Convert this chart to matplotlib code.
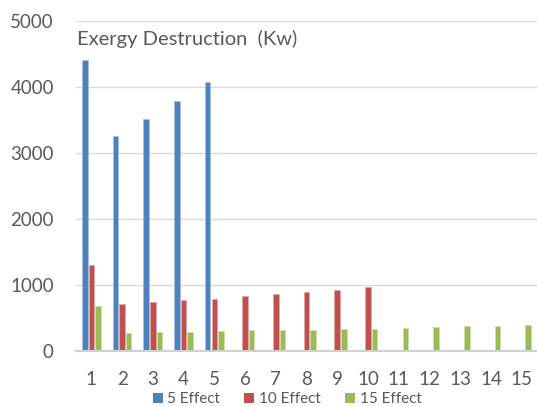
import matplotlib
matplotlib.use("Agg")
import matplotlib.pyplot as plt
from matplotlib.patches import Patch
import numpy as np

# Exergy destruction per effect (kW) for three plant configurations
effects = list(range(1, 16))
effect5 = [4410, 3260, 3510, 3790, 4070]
effect10 = [1300, 710, 740, 770, 790, 830, 860, 890, 920, 965]
effect15 = [680, 280, 285, 295, 305, 315, 318, 322, 330, 340, 350, 360, 375, 385, 393]
series_names = ["5 Effect", "10 Effect", "15 Effect"]
y_ticks = [0, 1000, 2000, 3000, 4000, 5000]

colors = ["#4F81BD", "#C0504D", "#9BBB59"]
edges = ["#A7C0DE", "#E0A8A6", "#CDDDAC"]
text_color = "#595959"
font = "Lato"

plt.rcParams["font.family"] = [font, "DejaVu Sans"]

fig = plt.figure(figsize=(5.37, 4.07), dpi=100)
ax = fig.add_axes([76 / 537, 56 / 407, 461 / 537, 330 / 407])

width = 0.18
step = 0.215
for i, (vals, c, ec) in enumerate(zip([effect5, effect10, effect15], colors, edges)):
    x = np.arange(1, len(vals) + 1) + (i - 1) * step
    ax.bar(x, vals, width=width, color=c, edgecolor=ec, linewidth=0.5, zorder=3)

ax.set_xlim(0.5, 15.5)
ax.set_ylim(0, 5000)
ax.set_xticks(effects)
ax.set_xticklabels([str(e) for e in effects])
ax.set_yticks(y_ticks)
ax.set_yticklabels([str(t) for t in y_ticks])

ax.tick_params(axis="x", length=0, pad=14.5, labelsize=13.5, colors=text_color)
ax.tick_params(axis="y", length=0, pad=16, labelsize=13.5, colors=text_color)

ax.grid(axis="y", color="#D9D9D9", linewidth=1.0, zorder=0)
for side in ["top", "right", "left"]:
    ax.spines[side].set_visible(False)
ax.spines["bottom"].set_color("#D0D0D0")
ax.spines["bottom"].set_linewidth(1.5)
ax.spines["bottom"].set_zorder(4)

ax.text(0.003, 0.945, "Exergy Destruction  (Kw)", transform=ax.transAxes,
        ha="left", va="center", fontsize=14.5, color=text_color)

handles = [Patch(facecolor=c, edgecolor="none") for c in colors]
fig.legend(handles, series_names, loc="center", bbox_to_anchor=(287 / 537, 1 - 399 / 407),
           ncol=3, frameon=False, fontsize=11, labelcolor=text_color,
           handlelength=0.65, handleheight=0.65, handletextpad=0.3,
           columnspacing=1.6, borderpad=0, borderaxespad=0)

fig.savefig("out.png", dpi=100)
